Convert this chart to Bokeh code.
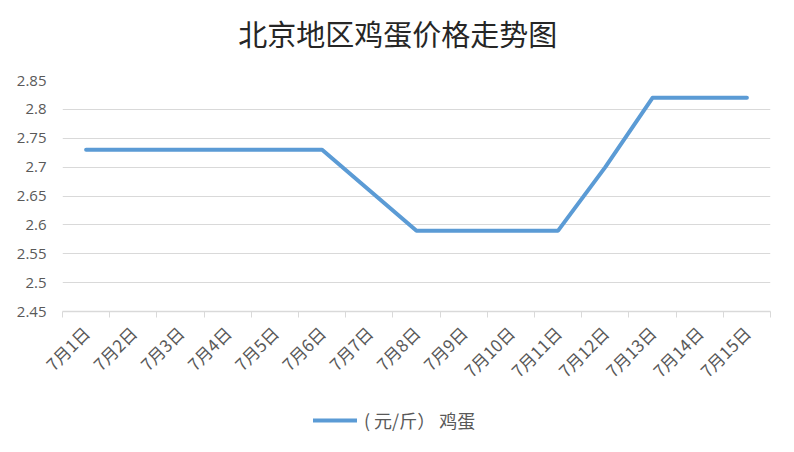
from bokeh.plotting import figure
from bokeh.layouts import column
from bokeh.models import FixedTicker, Legend, LegendItem, ColumnDataSource, Range1d
from bokeh.core.properties import value
from bokeh.embed import file_html
from bokeh.resources import INLINE
import math

title_text = "北京地区鸡蛋价格走势图"
categories = ["7月1日", "7月2日", "7月3日", "7月4日", "7月5日", "7月6日", "7月7日", "7月8日",
              "7月9日", "7月10日", "7月11日", "7月12日", "7月13日", "7月14日", "7月15日"]
prices = [2.73, 2.73, 2.73, 2.73, 2.73, 2.73, 2.66, 2.59, 2.59, 2.59, 2.59, 2.70, 2.82, 2.82, 2.82]
series_name = "( 元/斤） 鸡蛋"
y_ticks = [2.45, 2.5, 2.55, 2.6, 2.65, 2.7, 2.75, 2.8, 2.85]
y_tick_labels = ["2.45", "2.5", "2.55", "2.6", "2.65", "2.7", "2.75", "2.8", "2.85"]

LINE_COLOR = "#5B9BD5"
n = len(categories)
xs = list(range(1, n + 1))
src = ColumnDataSource(dict(x=xs, y=prices))

# title strip
tf = figure(width=794, height=60, output_backend="svg", toolbar_location=None,
            x_range=Range1d(0, 794), y_range=Range1d(0, 60),
            x_axis_location=None, y_axis_location=None,
            min_border_left=0, min_border_right=0, min_border_top=0, min_border_bottom=0)
tf.grid.visible = False
tf.outline_line_color = None
tf.title = None
tf.text(x=[376], y=[28], text=[title_text], text_align="center", text_baseline="middle",
        text_font=value("Noto Sans CJK SC"), text_font_size=value("29px"), text_color="#262626")

p = figure(width=794, height=340, output_backend="svg", toolbar_location=None,
           x_range=Range1d(0.5, n + 0.5), y_range=Range1d(2.45, 2.85),
           min_border_left=62, min_border_right=24, min_border_top=20, min_border_bottom=89)
p.title = None
p.outline_line_color = None
p.background_fill_color = "white"
p.border_fill_color = "white"

# y axis
p.yaxis.ticker = FixedTicker(ticks=y_ticks)
p.yaxis.major_label_overrides = dict(zip(y_ticks, y_tick_labels))
p.yaxis.axis_line_color = None
p.yaxis.major_tick_line_color = None
p.yaxis.minor_tick_line_color = None
p.yaxis.major_label_text_font = "Open Sans"
p.yaxis.major_label_text_font_size = "15px"
p.yaxis.major_label_text_color = "#595959"
p.yaxis.major_label_standoff = 10
p.ygrid.grid_line_color = "#d9d9d9"
p.ygrid.grid_line_width = 1
p.ygrid.ticker = FixedTicker(ticks=y_ticks)

# x axis
boundaries = [i + 0.5 for i in range(0, n + 1)]
p.xaxis.ticker = FixedTicker(ticks=xs, minor_ticks=boundaries)
p.xaxis.major_label_overrides = {x: c for x, c in zip(xs, categories)}
p.xaxis.major_tick_line_color = None
p.xaxis.minor_tick_line_color = "#d9d9d9"
p.xaxis.minor_tick_out = 6
p.xaxis.minor_tick_in = 0
p.xaxis.axis_line_color = "#d9d9d9"
p.xaxis.axis_line_width = 1.5
p.xaxis.major_label_orientation = math.pi / 4
p.xaxis.major_label_text_font = "Noto Sans CJK SC"
p.xaxis.major_label_text_font_size = "17px"
p.xaxis.major_label_text_color = "#595959"
p.xaxis.major_label_standoff = 12
p.xgrid.grid_line_color = None

p.line("x", "y", source=src, line_color=LINE_COLOR, line_width=4, line_join="round", line_cap="round")

# legend strip below the chart
lg = figure(width=794, height=52, output_backend="svg", toolbar_location=None,
            x_range=Range1d(0, 1), y_range=Range1d(0, 1),
            min_border_left=0, min_border_right=0, min_border_top=0, min_border_bottom=0)
lg.axis.visible = False
lg.grid.visible = False
lg.outline_line_color = None
lg.title = None
lr = lg.line(x=[2, 3], y=[2, 3], line_color=LINE_COLOR, line_width=4, line_cap="round")
legend = Legend(items=[LegendItem(label=series_name, renderers=[lr])], location=(251, 19),
                orientation="horizontal", border_line_color=None, background_fill_alpha=0,
                padding=0, margin=0, glyph_width=44, glyph_height=16, label_standoff=7,
                label_text_font="Noto Sans CJK SC", label_text_font_size="18px",
                label_text_color="#595959", label_height=16)
lg.add_layout(legend, "center")

layout = column(tf, p, lg, spacing=0)
open("out.html", "w").write(file_html(layout, INLINE))
